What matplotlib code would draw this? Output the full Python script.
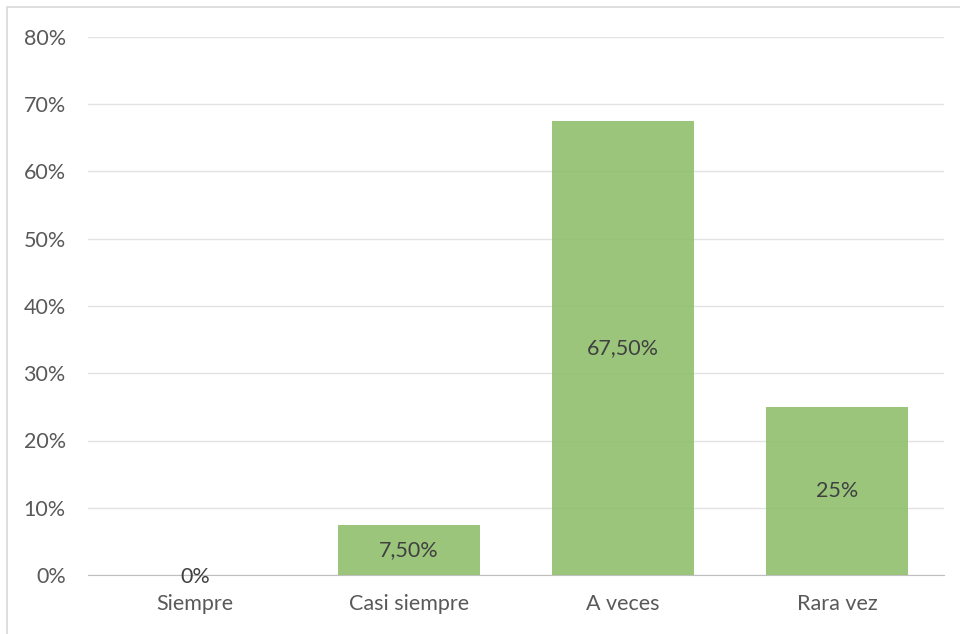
import matplotlib.pyplot as plt
from matplotlib.patches import Rectangle

# chart data
categories = ['Siempre', 'Casi siempre', 'A veces', 'Rara vez']
values = [0, 7.5, 67.5, 25]
value_labels = ['0%', '7,50%', '67,50%', '25%']
y_ticks = [0, 10, 20, 30, 40, 50, 60, 70, 80]

plt.rcParams['font.family'] = ['Lato', 'DejaVu Sans']

fig = plt.figure(figsize=(9.6, 6.34), dpi=100)
ax = fig.add_axes([88 / 960, 1 - 575 / 634, (944 - 88) / 960, (575 - 37) / 634])

# light frame round the chart area
fig.patches.append(Rectangle((7 / 960, -0.1), 1.1, 1 - 7 / 634 + 0.1,
                             transform=fig.transFigure, fill=False,
                             edgecolor='#d9d9d9', linewidth=1.2))

x = list(range(len(categories)))
ax.bar(x, values, width=0.66, color='#8fbf6d', alpha=0.9, zorder=3)

for xi, v, lab in zip(x, values, value_labels):
    ax.text(xi, v / 2 - (0.3 if v == 0 else 0), lab, ha='center', va='center',
            fontsize=15.5, color='#404040', zorder=4)

ax.set_xlim(-0.5, 3.5)
ax.set_ylim(0, 80)
ax.set_yticks(y_ticks)
ax.set_yticklabels(['{}%'.format(t) for t in y_ticks])
ax.set_xticks(x)
ax.set_xticklabels(categories)
ax.tick_params(axis='both', length=0, labelsize=15.5, colors='#595959')
ax.tick_params(axis='y', pad=16)
ax.tick_params(axis='x', pad=14)

ax.grid(axis='y', color='#e3e3e3', linewidth=1, zorder=1)
ax.set_axisbelow(True)
for side in ['top', 'right', 'left']:
    ax.spines[side].set_visible(False)
ax.spines['bottom'].set_color('#bfbfbf')
ax.spines['bottom'].set_zorder(2)

fig.savefig('out.png', dpi=100)
